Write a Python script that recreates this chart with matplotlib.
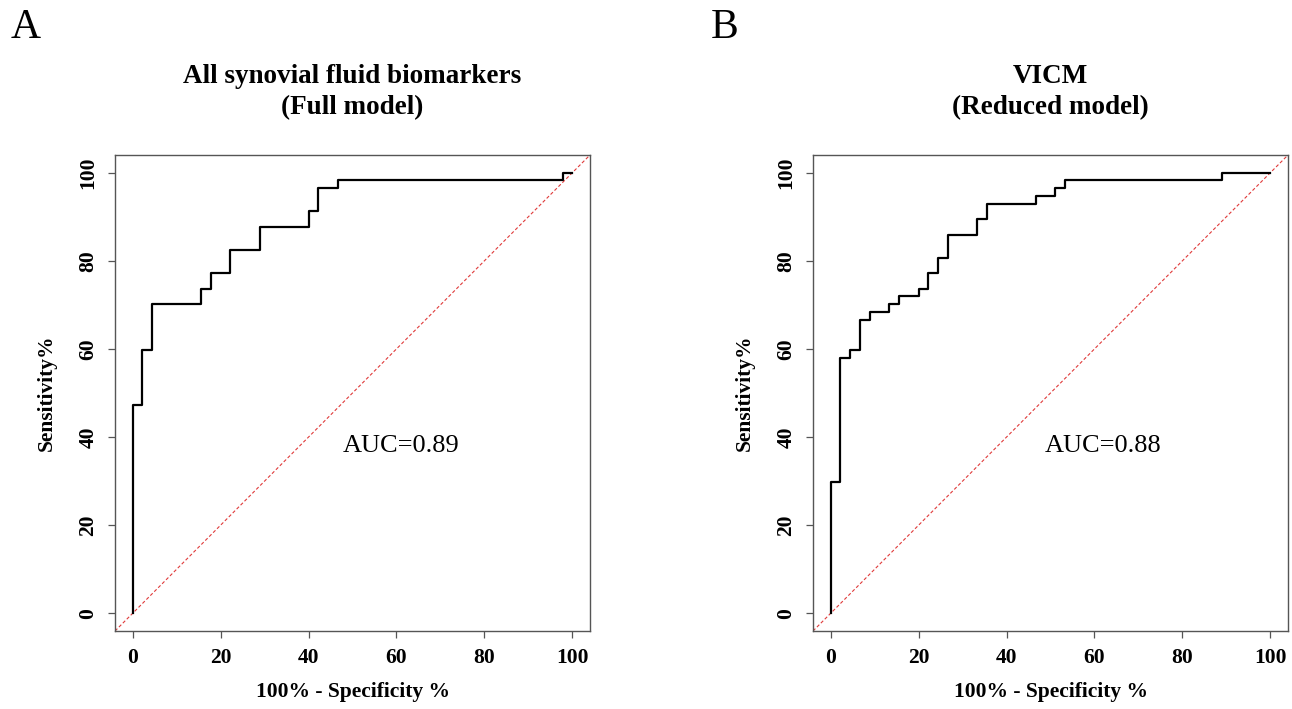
import matplotlib
matplotlib.use("Agg")
import matplotlib.pyplot as plt

plt.rcParams['font.family'] = ['Liberation Serif', 'DejaVu Serif']

# ROC step data (x = 100% - specificity, y = sensitivity), 'post' steps
a_fpr = [0, 0, 2.22, 4.44, 15.56, 17.78, 22.22, 28.89, 40.0, 42.22, 46.67, 97.78, 100]
a_tpr = [0, 47.37, 59.65, 70.18, 73.68, 77.19, 82.46, 87.72, 91.23, 96.49, 98.25, 100, 100]

b_fpr = [0, 0, 2.22, 4.44, 6.67, 8.89, 13.33, 15.56, 20.0, 22.22, 24.44, 26.67,
         33.33, 35.56, 46.67, 51.11, 53.33, 88.89, 100]
b_tpr = [0, 29.82, 57.89, 59.65, 66.67, 68.42, 70.18, 71.93, 73.68, 77.19, 80.70,
         85.96, 89.47, 92.98, 94.74, 96.49, 98.25, 100, 100]

titles = ["All synovial fluid biomarkers\n(Full model)", "VICM\n(Reduced model)"]
letters = ["A", "B"]
auc_labels = ["AUC=0.89", "AUC=0.88"]
auc_pos = [(61, 38), (62, 38)]
ticks = [0, 20, 40, 60, 80, 100]

W, H = 1292, 709
fig = plt.figure(figsize=(W / 100, H / 100), dpi=100)

boxes = [(115, 155, 590, 631), (813, 155, 1288, 631)]
letter_x = [11, 711]

for i, (fpr, tpr) in enumerate([(a_fpr, a_tpr), (b_fpr, b_tpr)]):
    l, t, r, b = boxes[i]
    ax = fig.add_axes([l / W, 1 - b / H, (r - l) / W, (b - t) / H])
    ax.set_xlim(-4, 104)
    ax.set_ylim(-4, 104)
    ax.axline((0, 0), slope=1, color='#e03a3a', lw=0.8, ls=(0, (3, 2)))
    ax.step(fpr, tpr, where='post', color='black', lw=1.6)
    ax.set_xticks(ticks)
    ax.set_yticks(ticks)
    ax.tick_params(direction='out', length=5, width=0.9, color='#555555',
                   labelsize=15.5, pad=7)
    for lab in ax.get_xticklabels():
        lab.set_fontweight('bold')
    for lab in ax.get_yticklabels():
        lab.set_fontweight('bold')
        lab.set_rotation(90)
        lab.set_va('center')
    for s in ax.spines.values():
        s.set_color('#555555')
        s.set_linewidth(1.0)
    ax.set_xlabel("100% - Specificity %", fontsize=15.5, fontweight='bold')
    ax.set_ylabel("Sensitivity%", fontsize=15.5, fontweight='bold')
    ax.xaxis.set_label_coords(0.5, (b - 692) / (b - t))
    ax.yaxis.set_label_coords(-68 / (r - l), 0.5)
    ax.xaxis.label.set_va('center')
    ax.yaxis.label.set_va('center')
    ax.text(auc_pos[i][0], auc_pos[i][1], auc_labels[i], fontsize=19,
            ha='center', va='center')
    fig.text(((l + r) / 2) / W, 1 - 92 / H, titles[i], fontsize=19.5,
             fontweight='bold', ha='center', va='center', linespacing=1.35)
    fig.text(letter_x[i] / W, 1 - 28 / H, letters[i], fontsize=30,
             ha='left', va='center')

fig.savefig("out.png", dpi=100, facecolor='white')
